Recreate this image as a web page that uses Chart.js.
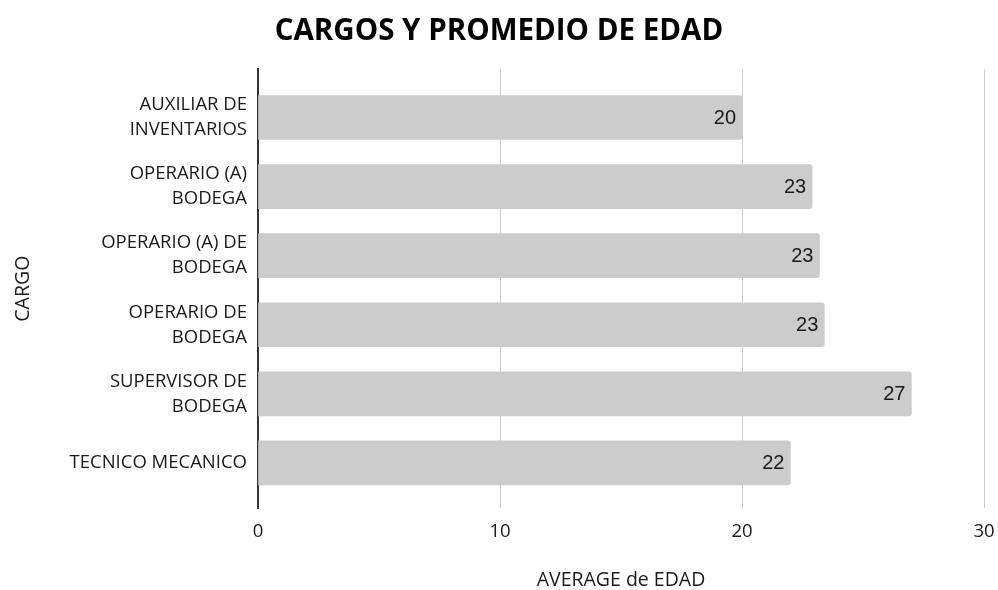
<!DOCTYPE html>
<html>
<head>
<meta charset="utf-8">
<script src="https://cdn.jsdelivr.net/npm/chart.js@4"></script>
<style>
  html, body { margin: 0; padding: 0; background: #fff; }
  #wrap { width: 998px; height: 590px; }
</style>
</head>
<body>
<div id="wrap"><canvas id="chart"></canvas></div>
<script>
const cargos = [
  ['AUXILIAR DE', 'INVENTARIOS'],
  ['OPERARIO (A)', 'BODEGA'],
  ['OPERARIO (A) DE', 'BODEGA'],
  ['OPERARIO DE', 'BODEGA'],
  ['SUPERVISOR DE', 'BODEGA'],
  ['TECNICO MECANICO']
];
const promedioEdad = [20.0, 22.9, 23.2, 23.4, 27.0, 22.0];
const xTicks = [0, 10, 20, 30];

const labelFont = '"Open Sans", sans-serif';

// value labels at the end of each bar
const barLabels = {
  id: 'barLabels',
  afterDatasetsDraw(chart) {
    const ctx = chart.ctx;
    const meta = chart.getDatasetMeta(0);
    ctx.save();
    ctx.font = '20px "Liberation Sans", Arial, sans-serif';
    ctx.fillStyle = '#1a1a1a';
    ctx.textAlign = 'right';
    ctx.textBaseline = 'middle';
    meta.data.forEach((bar, i) => {
      ctx.fillText(String(Math.round(promedioEdad[i])), bar.x - 6, bar.y + 1);
    });
    ctx.restore();
  }
};

new Chart(document.getElementById('chart'), {
  type: 'bar',
  data: {
    datasets: [{
      data: promedioEdad.map((v, i) => ({ x: v, y: i })),
      backgroundColor: '#cccccc',
      borderRadius: 3,
      borderSkipped: 'start',
      barThickness: 44
    }]
  },
  plugins: [barLabels],
  options: {
    indexAxis: 'y',
    responsive: true,
    maintainAspectRatio: false,
    animation: false,
    layout: { padding: { left: 0, right: 0, top: 0, bottom: 0 } },
    plugins: {
      legend: { display: false },
      tooltip: { enabled: false },
      title: {
        display: true,
        text: 'CARGOS Y PROMEDIO DE EDAD',
        color: '#000',
        font: { family: labelFont, size: 29.5, weight: 'bold', lineHeight: 1.2 },
        padding: { top: 14, bottom: 20 }
      }
    },
    scales: {
      x: {
        type: 'linear',
        min: 0,
        max: 30,
        afterBuildTicks: (scale) => { scale.ticks = xTicks.map(v => ({ value: v })); },
        afterFit: (scale) => { scale.height = 82; scale.paddingRight = 14; },
        grid: { color: '#cccccc', lineWidth: 1, drawTicks: false },
        border: { display: false },
        ticks: {
          color: '#1a1a1a',
          padding: 13,
          maxRotation: 0,
          font: { family: labelFont, size: 18.5 }
        },
        title: {
          display: true,
          text: 'AVERAGE de EDAD',
          color: '#1a1a1a',
          font: { family: labelFont, size: 19.5, lineHeight: 1 },
          padding: { top: 0, bottom: 0 }
        }
      },
      y: {
        type: 'linear',
        reverse: true,
        offset: false,
        min: -0.696,
        max: 5.652,
        afterFit: (scale) => { scale.width = 258; },
        grid: { display: false, drawTicks: false, offset: false },
        border: { display: true, color: '#333', width: 2 },
        ticks: {
          stepSize: 1,
          includeBounds: false,
          autoSkip: false,
          padding: 11,
          color: '#1a1a1a',
          font: { family: labelFont, size: 18.5, lineHeight: 1.35 },
          callback: (v) => Number.isInteger(v) && cargos[v] ? cargos[v] : ''
        },
        title: {
          display: true,
          text: 'CARGO',
          color: '#1a1a1a',
          font: { family: labelFont, size: 19.5 },
          padding: { top: 12, bottom: 0 }
        }
      }
    }
  }
});
</script>
</body>
</html>
